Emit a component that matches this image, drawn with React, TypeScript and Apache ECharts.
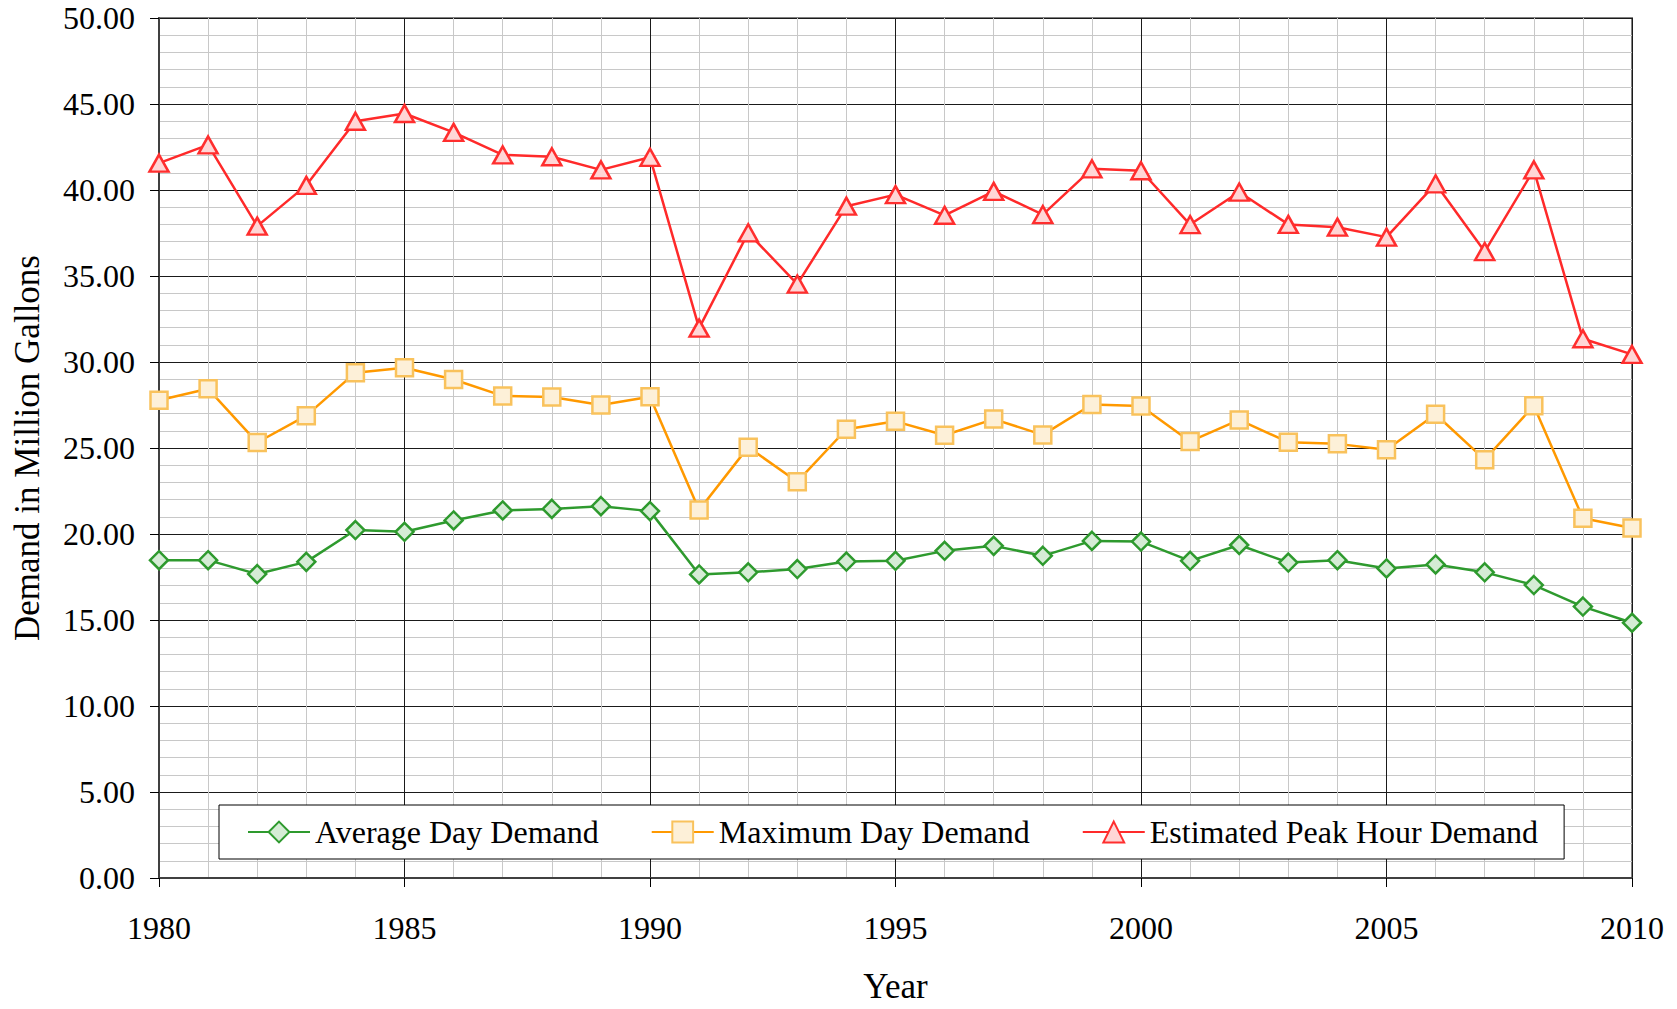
import React, { useEffect, useRef } from "react";
import * as echarts from "echarts";

const years = [
  1980, 1981, 1982, 1983, 1984, 1985, 1986, 1987, 1988, 1989, 1990,
  1991, 1992, 1993, 1994, 1995, 1996, 1997, 1998, 1999, 2000,
  2001, 2002, 2003, 2004, 2005, 2006, 2007, 2008, 2009, 2010,
];

const averageDay = [
  18.48, 18.48, 17.67, 18.38, 20.23, 20.13, 20.79, 21.37, 21.46, 21.62, 21.33,
  17.65, 17.77, 17.96, 18.4, 18.44, 19.02, 19.31, 18.73, 19.6, 19.56,
  18.44, 19.36, 18.34, 18.48, 18.0, 18.23, 17.77, 17.03, 15.78, 14.84,
];

const maximumDay = [
  27.78, 28.44, 25.32, 26.88, 29.38, 29.67, 28.98, 28.03, 27.96, 27.5, 27.98,
  21.39, 25.05, 23.04, 26.09, 26.55, 25.74, 26.68, 25.76, 27.53, 27.44,
  25.38, 26.63, 25.34, 25.24, 24.9, 26.96, 24.32, 27.46, 20.92, 20.35,
];

const peakHour = [
  41.56, 42.62, 37.9, 40.27, 44.0, 44.45, 43.35, 42.04, 41.93, 41.17, 41.9,
  31.97, 37.51, 34.53, 39.06, 39.73, 38.53, 39.92, 38.57, 41.23, 41.12,
  37.99, 39.88, 38.0, 37.84, 37.26, 40.36, 36.42, 41.17, 31.35, 30.44,
];

const seriesNames = [
  "Average Day Demand",
  "Maximum Day Demand",
  "Estimated Peak Hour Demand",
];

const FONT = "'Liberation Serif', 'Times New Roman', serif";

export default function App() {
  const ref = useRef<HTMLDivElement>(null);

  useEffect(() => {
    if (!ref.current) return;
    const chart = echarts.init(ref.current, undefined, { renderer: "svg" });

    const pair = (vals: number[]) => years.map((y, i) => [y, vals[i]]);

    const option: any = {
      animation: false,
      backgroundColor: "#ffffff",
      textStyle: { fontFamily: FONT, color: "#000" },
      grid: {
        left: 159,
        right: 45,
        top: 18,
        bottom: 126,
        show: true,
        borderColor: "#808080",
        borderWidth: 2,
        backgroundColor: "transparent",
      },
      legend: {
        show: true,
        left: 219,
        top: 805,
        orient: "horizontal",
        data: seriesNames,
        itemWidth: 62,
        itemHeight: 26,
        itemGap: 52,
        padding: [11, 26, 11, 28],
        borderColor: "#000",
        borderWidth: 1,
        backgroundColor: "#ffffff",
        selectedMode: false,
        textStyle: {
          fontFamily: FONT,
          fontSize: 32,
          color: "#000",
          lineHeight: 32,
        },
      },
      xAxis: {
        type: "value",
        min: 1980,
        max: 2010,
        interval: 5,
        name: "Year",
        nameLocation: "middle",
        nameGap: 91,
        nameTextStyle: { fontFamily: FONT, fontSize: 35, color: "#000" },
        axisLine: { show: true, lineStyle: { color: "#404040", width: 2 } },
        axisTick: { show: true, inside: false, length: 9, lineStyle: { color: "#000", width: 1 } },
        axisLabel: {
          fontFamily: FONT,
          fontSize: 32,
          color: "#000",
          margin: 34,
          formatter: (v: number) => String(v),
        },
        splitLine: { show: true, lineStyle: { color: "#1a1a1a", width: 1 } },
        minorTick: { show: false, splitNumber: 5 },
        minorSplitLine: { show: true, lineStyle: { color: "#c8c8c8", width: 1 } },
      },
      yAxis: {
        type: "value",
        min: 0,
        max: 50,
        interval: 5,
        name: "Demand in Million Gallons",
        nameLocation: "middle",
        nameGap: 114,
        nameRotate: 90,
        nameTextStyle: { fontFamily: FONT, fontSize: 35, color: "#000" },
        axisLine: { show: true, lineStyle: { color: "#404040", width: 2 } },
        axisTick: { show: true, inside: false, length: 9, lineStyle: { color: "#000", width: 1 } },
        axisLabel: {
          fontFamily: FONT,
          fontSize: 32,
          color: "#000",
          margin: 24,
          formatter: (v: number) => v.toFixed(2),
        },
        splitLine: { show: true, lineStyle: { color: "#1a1a1a", width: 1 } },
        minorTick: { show: false, splitNumber: 5 },
        minorSplitLine: { show: true, lineStyle: { color: "#c8c8c8", width: 1 } },
      },
      series: [
        {
          name: seriesNames[0],
          type: "line",
          data: pair(averageDay),
          symbol: "diamond",
          symbolSize: 18,
          lineStyle: { color: "#2e9a2e", width: 2.5 },
          itemStyle: { color: "#d5ecd5", borderColor: "#2e9a2e", borderWidth: 2.5 },
          emphasis: { disabled: true },
          z: 3,
        },
        {
          name: seriesNames[1],
          type: "line",
          data: pair(maximumDay),
          symbol: "rect",
          symbolSize: 17,
          lineStyle: { color: "#ff9900", width: 2.5 },
          itemStyle: { color: "#fdf0d8", borderColor: "#f9c25c", borderWidth: 2.5 },
          emphasis: { disabled: true },
          z: 4,
        },
        {
          name: seriesNames[2],
          type: "line",
          data: pair(peakHour),
          symbol: "triangle",
          symbolSize: [19, 17],
          lineStyle: { color: "#ff2a2a", width: 2.5 },
          itemStyle: { color: "#ffd6d6", borderColor: "#ff2e2e", borderWidth: 2.5 },
          emphasis: { disabled: true },
          z: 5,
        },
      ],
    };

    chart.setOption(option);
    return () => {
      chart.dispose();
    };
  }, []);

  return (
    <div
      ref={ref}
      style={{ position: "fixed", left: 0, top: 0, width: 1677, height: 1009, background: "#fff" }}
    />
  );
}
